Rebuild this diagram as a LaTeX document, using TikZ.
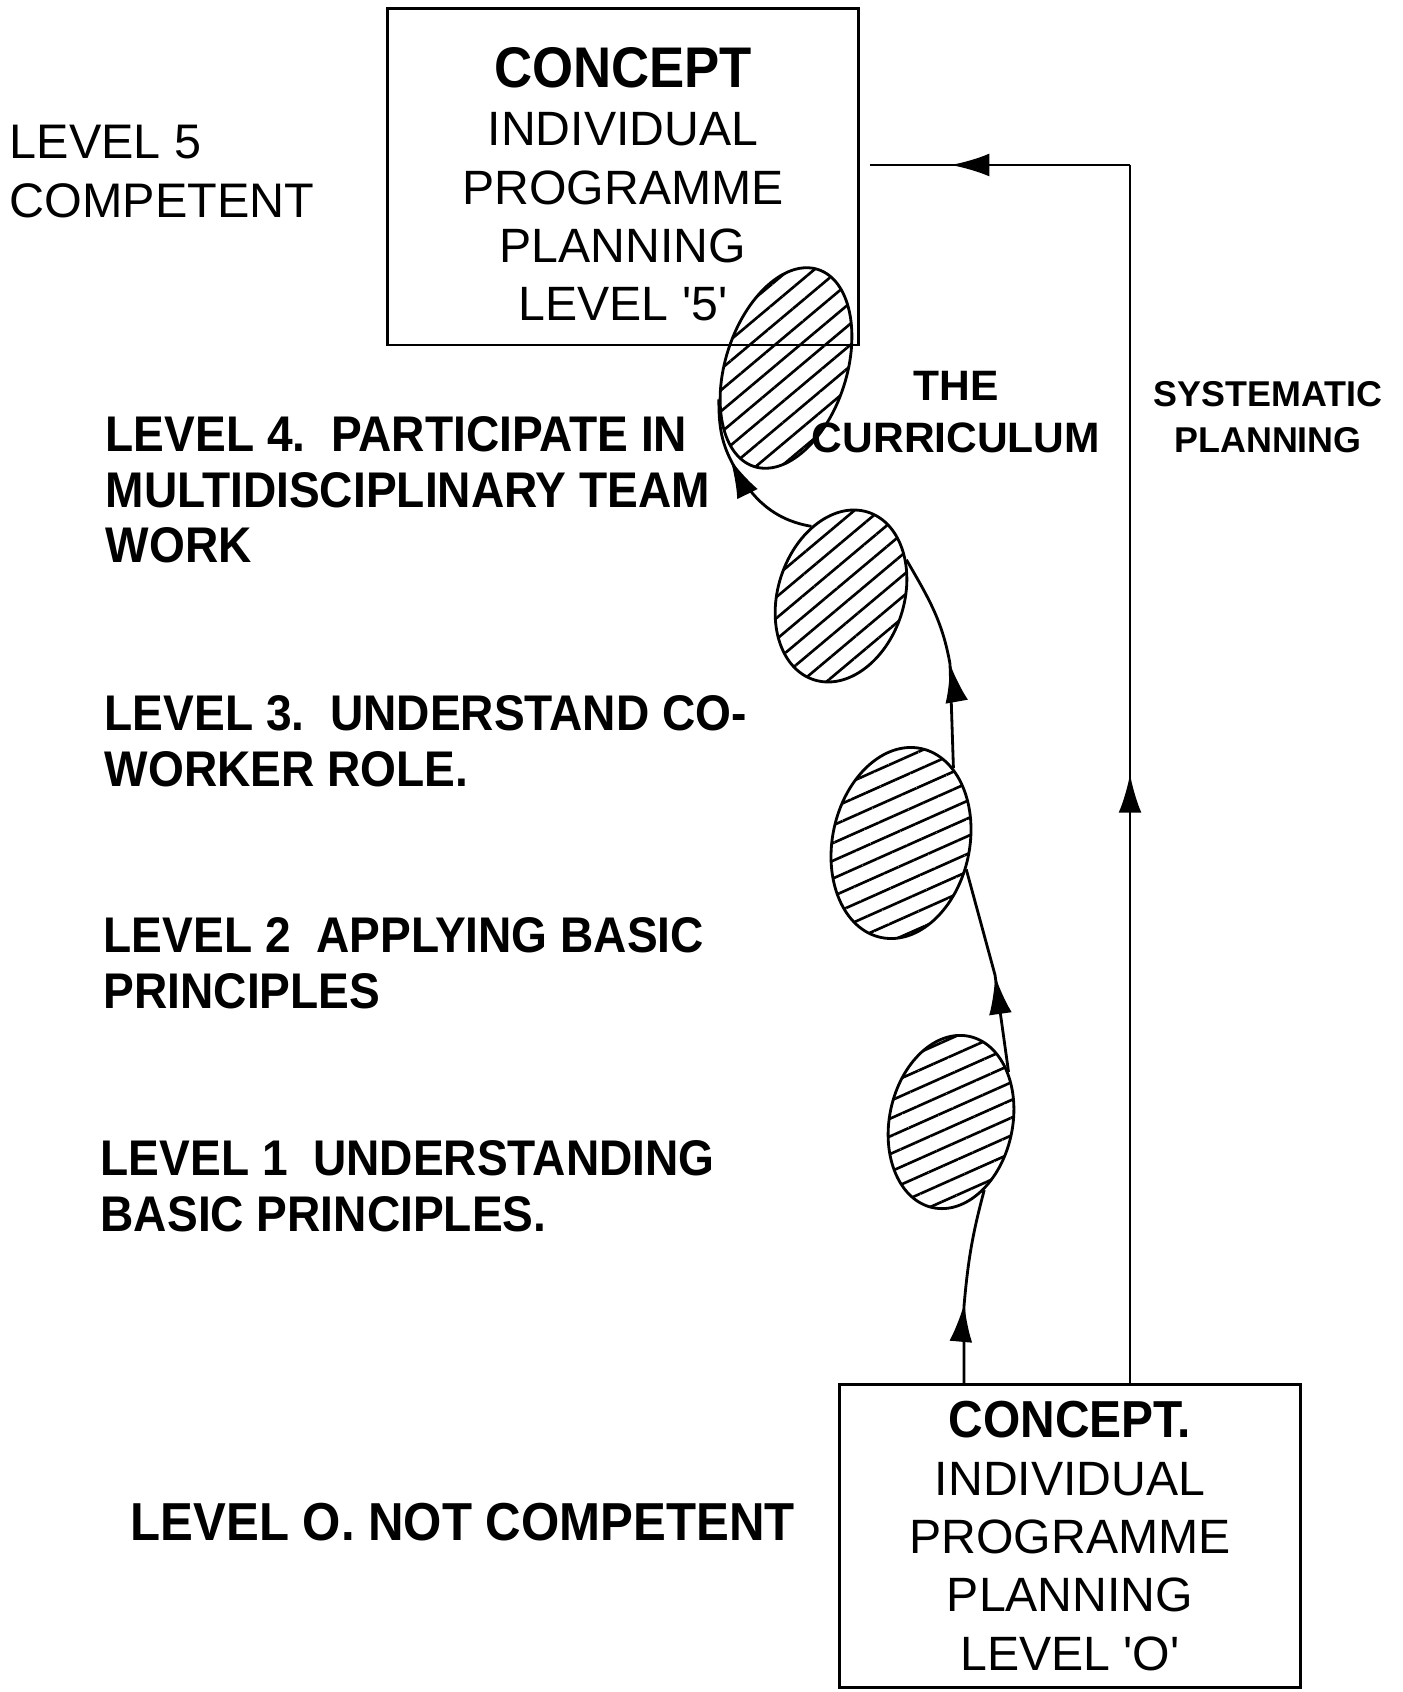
\documentclass[tikz,border=0pt]{standalone}
\usepackage{fontspec}
\setmainfont{Liberation Sans}
\newfontfamily\condsans[FakeStretch=0.92]{Liberation Sans}
\usetikzlibrary{shapes.geometric}
\usetikzlibrary{patterns.meta}
\usetikzlibrary{arrows.meta}
\usetikzlibrary{decorations.markings}

\tikzset{
	box/.style={draw, thick, rectangle, inner sep=0pt, align=center},
	ring/.style={draw, thick, ellipse, inner sep=0pt, pattern={Lines[angle=#1,distance=4.6pt,line width=0.75pt]}},
	level/.style={inner sep=0pt, anchor=west, align=left, font=\fontsize{14.25}{15.8}\selectfont\condsans\bfseries},
	curr/.style={thick},
	midarrow/.style={postaction={decorate}, decoration={markings, mark=at position #1 with {\arrow{Latex[length=11pt,width=6.5pt]}}}}
}

\begin{document}
\begin{tikzpicture}[x=0.01cm, y=-0.01cm]
	\useasboundingbox (0,0) rectangle (1402,1692);
	
	\node[box, minimum width=4.7cm, minimum height=3.36cm, font=\fontsize{13.7}{16.5}\selectfont] (concept5) at (623,177) {\rule{0pt}{15.5pt}{\fontsize{16.3}{16.5}\selectfont\condsans\bfseries CONCEPT}\\INDIVIDUAL\\PROGRAMME\\PLANNING\\LEVEL \textquotesingle 5\textquotesingle};
	\node[box, minimum width=4.6cm, minimum height=3.03cm, font=\fontsize{13.7}{16.5}\selectfont] (concept0) at (1070,1536) {{\fontsize{14.8}{16.5}\selectfont\condsans\bfseries CONCEPT.}\\INDIVIDUAL\\PROGRAMME\\PLANNING\\LEVEL \textquotesingle O\textquotesingle};
	
	% the four steps
	\node[ring=40, minimum width=1.21cm, minimum height=2.07cm, rotate=-18] (eA) at (786,368) {};
	\node[ring=40, minimum width=1.26cm, minimum height=1.76cm, rotate=-18] (eB) at (841,596) {};
	\node[ring=24, minimum width=1.37cm, minimum height=1.93cm, rotate=-12] (eC) at (901,843) {};
	\node[ring=24, minimum width=1.23cm, minimum height=1.75cm, rotate=-12] (eD) at (951,1122) {};
	
	\coordinate (t1) at (964,1306);
	\coordinate (t2) at (995,975);
	\coordinate (t3) at (950,664);
	\coordinate (t4) at (735,468);
	
	% the curriculum
	\draw[curr, midarrow=0.41] (concept0.north -| t1) -- (t1) to[out=85, in=-105] (eD.-52);
	\draw[curr, midarrow=0.47] (eD.53) -- (t2) -- (eC.-10);
	\draw[curr, midarrow=0.48] (eC.67) -- (t3) to[out=100, in=-60] (eB.47);
	\draw[curr, midarrow=0.64] (eB.131) to[out=170, in=-60] (t4) to[out=120, in=-90] (eA.223);
	
	% systematic planning
	\coordinate (spcorner) at (1130,165);
	\coordinate (spend) at (870,165);
	\draw[curr, midarrow=0.5] (concept0.north -| spcorner) -- (spcorner);
	\draw[curr, midarrow=0.69] (spcorner) -- (spend);
	
	\node[font=\fontsize{12.1}{14.8}\selectfont\bfseries, align=center] (curriculum) at (956,412) {THE\\CURRICULUM};
	\node[font=\fontsize{10.2}{13.1}\selectfont\bfseries, align=center] (systematic) at (1268,417) {SYSTEMATIC\\PLANNING};
	
	\node[level, font=\fontsize{13.8}{16.8}\selectfont] (lev5) at (9,172) {LEVEL 5\\COMPETENT};
	\node[level] (lev4) at (105,490) {LEVEL 4.\ \ PARTICIPATE IN\\MULTIDISCIPLINARY TEAM\\WORK};
	\node[level] (lev3) at (104,741) {LEVEL 3.\ \ UNDERSTAND CO-\\WORKER ROLE.};
	\node[level] (lev2) at (103,963) {LEVEL 2\ \ APPLYING BASIC\\PRINCIPLES};
	\node[level] (lev1) at (100,1186) {LEVEL 1\ \ UNDERSTANDING\\BASIC PRINCIPLES.};
	\node[level, font=\fontsize{15.2}{15.8}\selectfont\condsans\bfseries] (lev0) at (130,1522) {LEVEL O. NOT COMPETENT};
	
\end{tikzpicture}
\end{document}
